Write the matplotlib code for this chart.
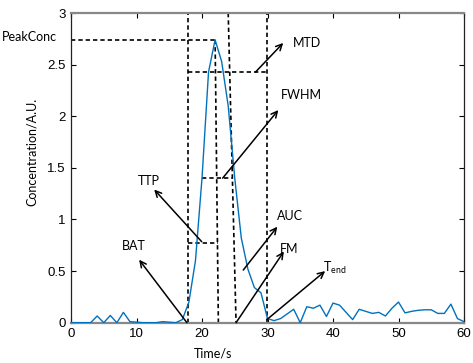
import matplotlib
matplotlib.use("Agg")
import matplotlib.pyplot as plt
import numpy as np

# ---- data ----
time_s = list(range(0, 61))
conc = [0, 0, 0, 0, 0.065, 0, 0.07, 0, 0.10, 0.01,
        0.005, 0, 0, 0, 0.01, 0.005, 0, 0.03, 0.2, 0.6,
        1.4, 2.43, 2.74, 2.53, 2.1, 1.4, 0.82, 0.52, 0.34, 0.29,
        0.04, 0.02, 0.04, 0.085, 0.13, 0.0, 0.155, 0.14, 0.17, 0.06,
        0.19, 0.17, 0.10, 0.03, 0.13, 0.11, 0.09, 0.10, 0.065, 0.14,
        0.20, 0.095, 0.11, 0.12, 0.125, 0.125, 0.09, 0.09, 0.18, 0.04,
        0.01]
x_ticks = [0, 10, 20, 30, 40, 50, 60]
y_ticks = [0, 0.5, 1, 1.5, 2, 2.5, 3]
y_tick_labels = ["0", "0.5", "1", "1.5", "2", "2.5", "3"]

# characteristic values
peak_conc = 2.74
bat = 17.8
ttp_top = 22.0
ttp_bot = 22.5
t_end = 29.9
fm_top = 24.0
fm_bot = 25.2
mtd_level = 2.43
fwhm_level = 1.40
fwhm_left, fwhm_right = 19.95, 24.8
ttp_level = 0.77

fig = plt.figure(figsize=(4.73, 3.63), dpi=100)
ax = fig.add_axes([71/473, (363-322.7)/363, (464-71)/473, (322.7-13)/363])

ax.plot(time_s, conc, color="#0072BD", lw=1.0, zorder=3)

dash = dict(color="k", lw=1.2, linestyle=(0, (2.6, 1.8)), zorder=2)
ax.plot([0, ttp_top], [peak_conc, peak_conc], **dash, clip_on=False)
ax.plot([bat, bat], [0, 3], **dash)
ax.plot([t_end, t_end], [0, 3], **dash)
ax.plot([ttp_top, ttp_bot], [peak_conc, 0], **dash)
ax.plot([fm_top, fm_bot], [3, 0], **dash)
ax.plot([bat, t_end], [mtd_level, mtd_level], **dash)
ax.plot([fwhm_left, fwhm_right], [fwhm_level, fwhm_level], **dash)
ax.plot([bat, ttp_bot], [ttp_level, ttp_level], **dash)

arrows = [
    ((17.7, 0.0), (10.4, 0.61)),     # BAT
    ((19.95, 0.785), (12.7, 1.29)),  # TTP
    ((26.3, 0.51), (31.5, 0.93)),    # AUC
    ((25.2, 0.0), (32.5, 0.69)),     # FM
    ((29.9, 0.03), (38.8, 0.50)),    # Tend
    ((23.15, 1.40), (31.65, 2.06)),  # FWHM
    ((28.2, 2.43), (32.4, 2.71)),    # MTD
]
for start, tip in arrows:
    ax.annotate("", xy=tip, xytext=start,
                arrowprops=dict(arrowstyle="->", lw=1.1, color="k",
                                mutation_scale=11, shrinkA=0, shrinkB=0),
                zorder=4)

tfont = dict(family="Lato", fontsize=9, color="k")
ax.text(7.8, 0.74, "BAT", ha="left", va="center", **tfont)
ax.text(10.2, 1.37, "TTP", ha="left", va="center", **tfont)
ax.text(31.4, 1.03, "AUC", ha="left", va="center", **tfont)
ax.text(31.9, 0.71, "FM", ha="left", va="center", **tfont)
ax.text(38.4, 0.53, r"T$_{\mathregular{end}}$", ha="left", va="center", **tfont)
ax.text(32.0, 2.21, "FWHM", ha="left", va="center", **tfont)
ax.text(33.9, 2.71, "MTD", ha="left", va="center", **tfont)
ax.text(-2.1, 2.77, "PeakConc", ha="right", va="center", clip_on=False, **tfont)

ax.set_xlim(0, 60)
ax.set_ylim(0, 3)
ax.set_xticks(x_ticks)
ax.set_yticks(y_ticks)
ax.set_yticklabels(y_tick_labels)
ax.tick_params(direction="in", length=3.5, width=0.8, top=True, right=True,
               labelsize=9.5, pad=4, colors="k")
for lab in ax.get_xticklabels() + ax.get_yticklabels():
    lab.set_family("Liberation Sans")

for side in ["top", "bottom"]:
    ax.spines[side].set_color("#888888")
    ax.spines[side].set_linewidth(1.6)
for side in ["left", "right"]:
    ax.spines[side].set_color("#222222")
    ax.spines[side].set_linewidth(0.9)

ax.text((213-71)/393, (322.7-354)/309.7, "Time/s", transform=ax.transAxes,
        ha="center", va="center", **tfont)
ax.text((32-71)/393, (322.7-152)/309.7, "Concentration/A.U.", transform=ax.transAxes,
        ha="center", va="center", rotation=90, **tfont)

fig.savefig("out.png", dpi=100)
